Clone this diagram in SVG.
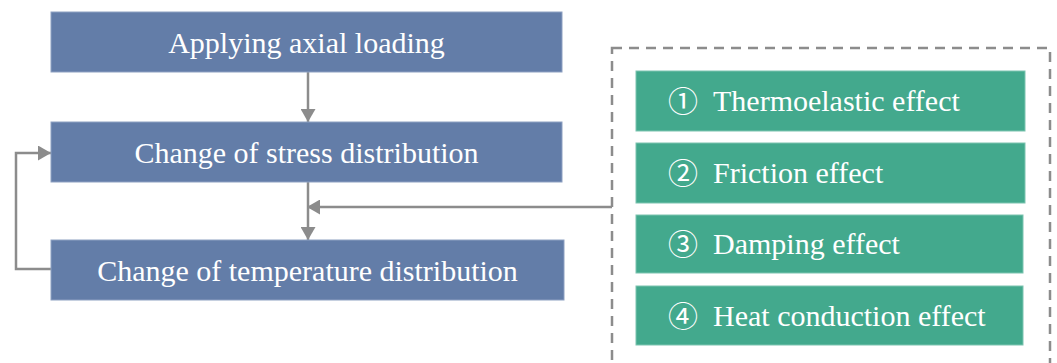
<svg xmlns="http://www.w3.org/2000/svg" width="1057" height="363" viewBox="0 0 1057 363">
<style>
.blue{fill:#637DA8;stroke:#8ea1c2;stroke-width:1}
.green{fill:#43A98D;stroke:#7cc4b0;stroke-width:1}
.t{font-family:"Liberation Serif","Times New Roman",serif;font-size:30px;fill:#ffffff}
.num{font-family:"Liberation Serif","Noto Sans CJK SC","DejaVu Sans",serif;font-size:30px;fill:#ffffff}
.conn{fill:none;stroke:#8c8c8c;stroke-width:2.5}
.dash{fill:none;stroke:#8c8c8c;stroke-width:2.5;stroke-dasharray:10 7}
</style>
<defs>
<marker id="arr" viewBox="0 0 13 15" refX="13" refY="7.5" markerWidth="13" markerHeight="15" markerUnits="userSpaceOnUse" orient="auto">
<path d="M0,0 L13,7.5 L0,15 z" fill="#8c8c8c"/>
</marker>
</defs>
<rect class="dash" x="612" y="48" width="438" height="330"/>
<g id="connectors">
<line class="conn" x1="308" y1="72" x2="308" y2="122" marker-end="url(#arr)"/>
<line class="conn" x1="308" y1="182" x2="308" y2="240" marker-end="url(#arr)"/>
<polyline class="conn" points="612,207 307,207" marker-end="url(#arr)"/>
<polyline class="conn" points="51,269 16,269 16,153 51,153" marker-end="url(#arr)"/>
</g>
<g id="applying">
<rect class="blue" x="51" y="12" width="511" height="60"/>
<text class="t" x="306.5" y="53" text-anchor="middle">Applying axial loading</text>
</g>
<g id="stress">
<rect class="blue" x="51" y="122" width="511" height="60"/>
<text class="t" x="306.5" y="163" text-anchor="middle">Change of stress distribution</text>
</g>
<g id="temperature">
<rect class="blue" x="51" y="240" width="513" height="60"/>
<text class="t" x="307.5" y="281" text-anchor="middle">Change of temperature distribution</text>
</g>
<g id="thermoelastic">
<rect class="green" x="636" y="71" width="389" height="60"/>
<text class="num" x="668" y="112">①</text>
<text class="t" x="713" y="111">Thermoelastic effect</text>
</g>
<g id="friction">
<rect class="green" x="636" y="143" width="389" height="60"/>
<text class="num" x="668" y="184">②</text>
<text class="t" x="713" y="183">Friction effect</text>
</g>
<g id="damping">
<rect class="green" x="636" y="215" width="387" height="58"/>
<text class="num" x="668" y="255">③</text>
<text class="t" x="713" y="254">Damping effect</text>
</g>
<g id="heat">
<rect class="green" x="636" y="286" width="387" height="59"/>
<text class="num" x="668" y="327">④</text>
<text class="t" x="713" y="326">Heat conduction effect</text>
</g>
</svg>
